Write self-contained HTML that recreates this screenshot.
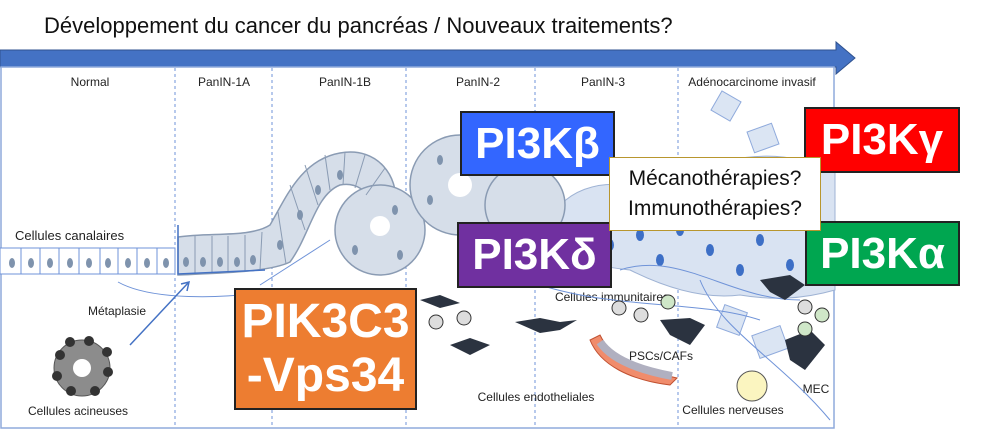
<!DOCTYPE html>
<html><head><meta charset="utf-8"><style>
body{margin:0;width:994px;height:433px;overflow:hidden;background:#fff;font-family:"Liberation Sans",sans-serif}
svg{position:absolute;left:0;top:0}
.b{position:absolute;color:#fff;font-weight:bold;font-family:"Liberation Sans",sans-serif;border:2px solid #222;box-sizing:border-box;text-align:center}
</style></head><body>
<svg width="994" height="433" viewBox="0 0 994 433">
<text x="44" y="33" font-size="22" fill="#111" font-family="Liberation Sans, sans-serif">Développement du cancer du pancréas / Nouveaux traitements?</text>
<polygon points="0,50 836,50 836,42 855,58 836,74 836,67 0,67" fill="#4472c4" stroke="#2f528f" stroke-width="1"/>
<rect x="1" y="67" width="833" height="361" fill="none" stroke="#8faadc" stroke-width="1.5"/>
<g stroke="#6f93d8" stroke-dasharray="3,3" stroke-width="1">
<line x1="175" y1="68" x2="175" y2="428"/><line x1="272" y1="68" x2="272" y2="428"/><line x1="406" y1="68" x2="406" y2="428"/><line x1="535" y1="68" x2="535" y2="428"/><line x1="678" y1="68" x2="678" y2="428"/></g>
<!-- tumor mass -->
<path d="M545,230 C560,190 600,175 650,190 C700,160 760,150 800,160 L835,150 L835,290 C800,300 770,300 740,295 C700,300 660,285 630,270 C590,265 545,260 545,230 Z" fill="#d9e3f2" stroke="#9fb3d4"/>
<g fill="#3d6fc6"><ellipse cx="640" cy="235" rx="4" ry="6"/><ellipse cx="680" cy="230" rx="4" ry="6"/><ellipse cx="710" cy="250" rx="4" ry="6"/><ellipse cx="760" cy="240" rx="4" ry="6"/><ellipse cx="740" cy="270" rx="4" ry="6"/><ellipse cx="790" cy="265" rx="4" ry="6"/><ellipse cx="660" cy="260" rx="4" ry="6"/><ellipse cx="610" cy="245" rx="4" ry="6"/></g>
<!-- epithelium -->
<g fill="#d6dee9" stroke="#8a9bb3" stroke-width="1.5">
<path d="M178,237 C210,232 250,238 270,225 C285,200 300,160 340,153 C380,146 398,180 395,200 L372,205 C368,190 355,182 340,185 C315,195 310,235 290,262 C270,272 220,273 178,275 Z"/>
<circle cx="380" cy="230" r="45"/>
<circle cx="460" cy="185" r="50"/>
<circle cx="525" cy="205" r="40"/>
</g>
<g fill="#fff"><circle cx="380" cy="226" r="10"/><circle cx="460" cy="185" r="12"/></g>
<g stroke="#8a9bb3" stroke-width="1"><line x1="195" y1="236" x2="195" y2="274"/><line x1="212" y1="236" x2="212" y2="273"/><line x1="228" y1="236" x2="228" y2="273"/><line x1="245" y1="235" x2="245" y2="272"/><line x1="262" y1="232" x2="260" y2="270"/><line x1="278" y1="212" x2="286" y2="264"/><line x1="290" y1="185" x2="305" y2="230"/><line x1="305" y1="165" x2="318" y2="205"/><line x1="325" y1="155" x2="330" y2="190"/><line x1="345" y1="152" x2="343" y2="185"/><line x1="365" y1="155" x2="355" y2="188"/><line x1="385" y1="168" x2="366" y2="195"/></g>
<path d="M178,225 L178,274 L265,270" fill="none" stroke="#4472c4" stroke-width="1.5"/>
<g fill="#7f93ad"><ellipse cx="186" cy="262" rx="3" ry="5"/><ellipse cx="203" cy="262" rx="3" ry="5"/><ellipse cx="220" cy="262" rx="3" ry="5"/><ellipse cx="237" cy="262" rx="3" ry="5"/><ellipse cx="253" cy="260" rx="3" ry="5"/><ellipse cx="280" cy="245" rx="3" ry="5"/><ellipse cx="300" cy="215" rx="3" ry="5"/><ellipse cx="318" cy="190" rx="3" ry="5"/><ellipse cx="340" cy="175" rx="3" ry="5"/><ellipse cx="355" cy="250" rx="3" ry="5"/><ellipse cx="400" cy="255" rx="3" ry="5"/><ellipse cx="395" cy="210" rx="3" ry="5"/><ellipse cx="430" cy="200" rx="3" ry="5"/><ellipse cx="440" cy="160" rx="3" ry="5"/></g>
<g font-size="12" fill="#222" text-anchor="middle" font-family="Liberation Sans, sans-serif">
<text x="90" y="86">Normal</text><text x="224" y="86">PanIN-1A</text><text x="345" y="86">PanIN-1B</text><text x="478" y="86">PanIN-2</text><text x="603" y="86">PanIN-3</text><text x="752" y="86">Adénocarcinome invasif</text>
<text x="612" y="301">Cellules immunitaires</text><text x="661" y="360">PSCs/CAFs</text><text x="536" y="401">Cellules endotheliales</text><text x="733" y="414">Cellules nerveuses</text><text x="816" y="393">MEC</text>
<text x="117" y="315">Métaplasie</text><text x="78" y="415">Cellules acineuses</text>
</g>
<text x="15" y="240" font-size="13" fill="#222">Cellules canalaires</text>
<rect x="0" y="248" width="175" height="26" fill="#fff" stroke="#6f93d8"/>
<g stroke="#6f93d8"><line x1="21" y1="248" x2="21" y2="274"/><line x1="40" y1="248" x2="40" y2="274"/><line x1="59" y1="248" x2="59" y2="274"/><line x1="79" y1="248" x2="79" y2="274"/><line x1="100" y1="248" x2="100" y2="274"/><line x1="118" y1="248" x2="118" y2="274"/><line x1="137" y1="248" x2="137" y2="274"/><line x1="157" y1="248" x2="157" y2="274"/></g>
<g fill="#7f93ad"><ellipse cx="12" cy="263" rx="3" ry="5"/><ellipse cx="31" cy="263" rx="3" ry="5"/><ellipse cx="50" cy="263" rx="3" ry="5"/><ellipse cx="70" cy="263" rx="3" ry="5"/><ellipse cx="89" cy="263" rx="3" ry="5"/><ellipse cx="108" cy="263" rx="3" ry="5"/><ellipse cx="128" cy="263" rx="3" ry="5"/><ellipse cx="147" cy="263" rx="3" ry="5"/><ellipse cx="166" cy="263" rx="3" ry="5"/></g>
<rect x="715" y="95" width="22" height="22" fill="#dbe5f3" stroke="#8faadc" transform="rotate(30 726 106)"/>
<rect x="750" y="127" width="26" height="22" fill="#dbe5f3" stroke="#8faadc" transform="rotate(-20 763 138)"/>
<rect x="720" y="308" width="24" height="24" fill="#dbe5f3" stroke="#8faadc" transform="rotate(20 732 320)"/>
<rect x="755" y="330" width="30" height="24" fill="#dbe5f3" stroke="#8faadc" transform="rotate(-20 770 342)"/>
<g fill="none" stroke="#6f93d8" stroke-width="1"><path d="M118,282 C150,300 220,300 280,290"/><path d="M260,285 L330,240"/><path d="M540,285 C620,310 700,300 760,320"/><path d="M700,280 C720,330 780,360 830,420"/><path d="M620,270 C680,250 730,300 800,300"/></g>
<line x1="130" y1="345" x2="188" y2="283" stroke="#4472c4" stroke-width="1.5"/><path d="M181,284 L189,282 L187,291" fill="none" stroke="#4472c4" stroke-width="1.5"/>
<circle cx="82" cy="368" r="28" fill="#8c8c8c" stroke="#555"/>
<circle cx="82" cy="368" r="9" fill="#fff"/>
<g fill="#333"><circle cx="89" cy="341" r="5"/><circle cx="107" cy="352" r="5"/><circle cx="108" cy="372" r="5"/><circle cx="95" cy="391" r="5"/><circle cx="71" cy="391" r="5"/><circle cx="57" cy="376" r="5"/><circle cx="60" cy="355" r="5"/><circle cx="70" cy="342" r="5"/></g>
<g fill="#2b3340">
<path d="M520,275 L548,270 L560,262 L585,270 L575,285 L550,287 Z"/><path d="M515,322 L540,318 L560,322 L577,320 L560,330 L540,333 Z"/><path d="M660,320 L690,318 L705,325 L690,345 L670,335 Z"/><path d="M760,280 L790,275 L805,285 L785,300 L770,292 Z"/><path d="M785,340 L810,330 L825,345 L805,370 L790,360 Z"/><path d="M450,345 L470,338 L490,345 L470,355 Z"/><path d="M420,300 L440,295 L460,303 L440,308 Z"/></g>
<g fill="#ddd" stroke="#333"><circle cx="464" cy="318" r="7"/><circle cx="436" cy="322" r="7"/><circle cx="619" cy="308" r="7"/><circle cx="641" cy="315" r="7"/><circle cx="805" cy="307" r="7"/></g>
<g fill="#cfe7c8" stroke="#333"><circle cx="668" cy="302" r="7"/><circle cx="822" cy="315" r="7"/><circle cx="805" cy="329" r="7"/></g>
<path d="M590,340 C600,365 630,380 670,385 L677,378 C640,370 612,360 600,335 Z" fill="#f08c6c" stroke="#c05030"/>
<path d="M600,342 C612,360 640,370 672,376" stroke="#b0b0c0" stroke-width="8" fill="none"/>
<circle cx="752" cy="386" r="15" fill="#fbf5c0" stroke="#555"/>
</svg>
<div class="b" style="left:460px;top:111px;width:155px;height:65px;background:#3366ff;font-size:44px;line-height:61px">PI3Kβ</div>
<div class="b" style="left:804px;top:107px;width:156px;height:66px;background:#ff0000;font-size:44px;line-height:62px">PI3Kγ</div>
<div class="b" style="left:457px;top:222px;width:155px;height:66px;background:#7030a0;font-size:44px;line-height:62px">PI3Kδ</div>
<div class="b" style="left:805px;top:221px;width:155px;height:65px;background:#00a650;font-size:44px;line-height:61px">PI3Kα</div>
<div class="b" style="left:234px;top:288px;width:183px;height:122px;background:#ed7d31;font-size:48px;line-height:54px;padding-top:5px">PIK3C3<br>-Vps34</div>
<div style="position:absolute;left:609px;top:157px;width:212px;height:74px;box-sizing:border-box;background:#fff;border:1.5px solid #b8962e;font-size:21px;line-height:30px;text-align:center;padding-top:6px;color:#111">Mécanothérapies?<br>Immunothérapies?</div>
</body></html>
